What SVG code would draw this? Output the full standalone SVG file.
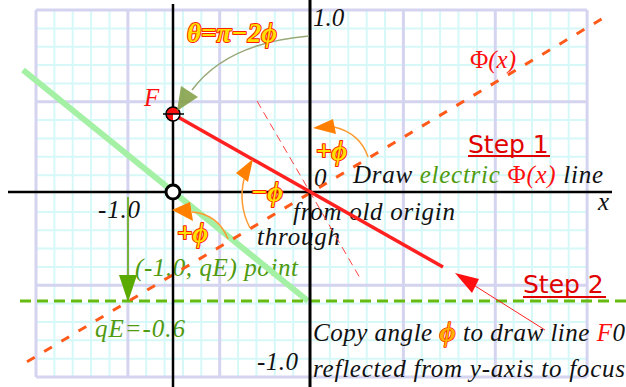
<svg xmlns="http://www.w3.org/2000/svg" width="626" height="387" viewBox="0 0 626 387">
<style>
.minor{stroke:#d6f8f8;stroke-width:2;fill:none}
.major{stroke:#d4d4f0;stroke-width:3;fill:none}
.it{font-family:"Liberation Serif","DejaVu Serif",serif;font-style:italic;font-size:25px;fill:#111}
.gr{fill:#4f9a10}
.rd{fill:#ff1010}
.phi{font-family:"Liberation Serif","DejaVu Serif",serif;font-style:italic;font-weight:bold;fill:#ffe000;stroke:#ff2000;stroke-width:2px;paint-order:stroke;stroke-linejoin:round}
.step{font-family:"DejaVu Sans",Verdana,sans-serif;font-size:25px;fill:#e00000}
.oarc{fill:none;stroke:#ff9a30;stroke-width:1.5}
.ohead{fill:#ff8000}
</style>
<rect width="626" height="387" fill="#fff"/>
<g id="grid">
<path class="minor" d="M36 10V377M54.4 10V377M72.7 10V377M91.1 10V377M109.5 10V377M146.2 10V377M164.6 10V377M183 10V377M201.3 10V377M238.1 10V377M256.4 10V377M274.8 10V377M293.2 10V377M329.9 10V377M348.3 10V377M366.7 10V377M385 10V377M421.8 10V377M440.1 10V377M458.5 10V377M476.9 10V377M513.6 10V377M532 10V377M550.4 10V377M568.7 10V377"/>
<path class="minor" d="M36 28.4H587M36 46.7H587M36 65.1H587M36 83.4H587M36 120.1H587M36 138.5H587M36 156.8H587M36 175.2H587M36 211.9H587M36 230.2H587M36 248.6H587M36 266.9H587M36 303.6H587M36 322H587M36 340.3H587M36 358.7H587"/>
<path class="major" d="M36 10V377M127.9 10V377M219.7 10V377M403.4 10V377M495.3 10V377M587.1 10V377M36 10H587M36 101.8H587M36 285.3H587M36 377H587"/>
</g>
<g id="labels">
<text class="it" x="313" y="26" font-size="24">1.0</text>
<text class="it" x="470" y="68" style="fill:#ff1010"><tspan font-style="normal">Φ</tspan>(x)</text>
<text class="it" x="314" y="186" font-size="24">0</text>
<text class="it" x="353" y="183" textLength="250">Draw <tspan class="gr">electric</tspan> <tspan class="rd" font-style="normal">Φ</tspan><tspan class="rd">(x)</tspan> line</text>
<text class="it" x="598" y="210" font-size="26">x</text>
<text class="it" x="98" y="218" textLength="42">-1.0</text>
<text class="it" x="293" y="220" textLength="162">from old origin</text>
<text class="it" x="257" y="245" textLength="83">through</text>
<text class="it gr" x="135" y="276" textLength="163">(-1.0, qE) point</text>
<text class="it gr" x="95" y="337" textLength="90">qE=-0.6</text>
<text class="it" x="313" y="341" textLength="312">Copy angle <tspan class="phi" font-size="28" style="fill:#ffb000;stroke-width:1.4px">ϕ</tspan> to draw line <tspan class="rd">F</tspan>0</text>
<text class="it" x="257" y="370" textLength="41">-1.0</text>
<text class="it" x="313" y="377" textLength="312">reflected from y-axis to focus</text>
<text class="it rd" x="144" y="106" font-size="22">F</text>
<text class="step" x="468" y="153">Step 1</text>
<line x1="468" y1="156" x2="550" y2="156" stroke="#e00000" stroke-width="2"/>
<text class="step" x="523" y="293">Step 2</text>
<line x1="523" y1="297" x2="606" y2="297" stroke="#e00000" stroke-width="2"/>
</g>
<g id="connectors">
<line x1="23" y1="70" x2="308" y2="301" stroke="#a4f0a4" stroke-width="6"/>
<line x1="20" y1="301" x2="626" y2="301" stroke="#66bb11" stroke-width="3" stroke-dasharray="11 6"/>
<line x1="27" y1="361.8" x2="604" y2="17.6" stroke="#ff5a1a" stroke-width="3" stroke-dasharray="9 11"/>
<line x1="8" y1="192" x2="612" y2="192" stroke="#000" stroke-width="2.5"/>
<line x1="310" y1="0" x2="310" y2="387" stroke="#000" stroke-width="3"/>
<line x1="173" y1="4" x2="173" y2="387" stroke="#000" stroke-width="2.5"/>
<line x1="257" y1="101" x2="360" y2="278" stroke="#ff4040" stroke-width="1" stroke-dasharray="8 5"/>
<line x1="178" y1="117" x2="443" y2="267" stroke="#ff2020" stroke-width="3.5"/>
<line x1="545" y1="330" x2="472" y2="284" stroke="#ff2020" stroke-width="1"/>
<polygon points="455,273 472,293 479,279" fill="#ff1010"/>
<line x1="128" y1="197" x2="128" y2="280" stroke="#5aaa00" stroke-width="1.5"/>
<polygon points="119,275 137,275 128,302" fill="#5aaa00"/>
<path class="oarc" d="M368 157Q360 133 334 127"/>
<polygon class="ohead" points="313,128 333,119 336,134"/>
<path class="oarc" d="M244 179Q238 205 250 228"/>
<polygon class="ohead" points="253,159 236,173 248,182"/>
<path class="oarc" d="M192 212Q218 214 228 239"/>
<polygon class="ohead" points="172,210 190,202 193,221"/>
<path d="M309 36C262 40 218 55 192 90" fill="none" stroke="#9aa878" stroke-width="1.5"/>
</g>
<g id="focus">
<path d="M173 114V107A7 7 0 0 0 166 114Z" fill="#ff1010"/>
<path d="M173 114H166A7 7 0 0 0 173 121Z" fill="#ff1010"/>
<path d="M173 114H180A7 7 0 0 0 173 107Z" fill="#ff1010"/>
<path d="M173 114V121A7 7 0 0 0 180 114Z" fill="#fff"/>
<circle cx="173" cy="114" r="7" fill="none" stroke="#000" stroke-width="1.5"/>
<line x1="163" y1="114" x2="184" y2="114" stroke="#000" stroke-width="1.5"/>
<polygon points="177,111 181,86 198,97" fill="#7f9c40" fill-opacity="0.85"/>
</g>
<g id="old-origin">
<circle cx="173" cy="192" r="7" fill="#fff" stroke="#000" stroke-width="3"/>
</g>
<g id="angle-labels">
<text class="phi" x="187" y="42" font-size="28" textLength="90" lengthAdjust="spacingAndGlyphs">θ=π−2ϕ</text>
<text class="phi" x="316" y="160" font-size="27" textLength="31" lengthAdjust="spacingAndGlyphs">+ϕ</text>
<text class="phi" x="251" y="201" font-size="27" textLength="32" lengthAdjust="spacingAndGlyphs">−ϕ</text>
<text class="phi" x="177" y="242" font-size="27" textLength="31" lengthAdjust="spacingAndGlyphs">+ϕ</text>
</g>
</svg>
